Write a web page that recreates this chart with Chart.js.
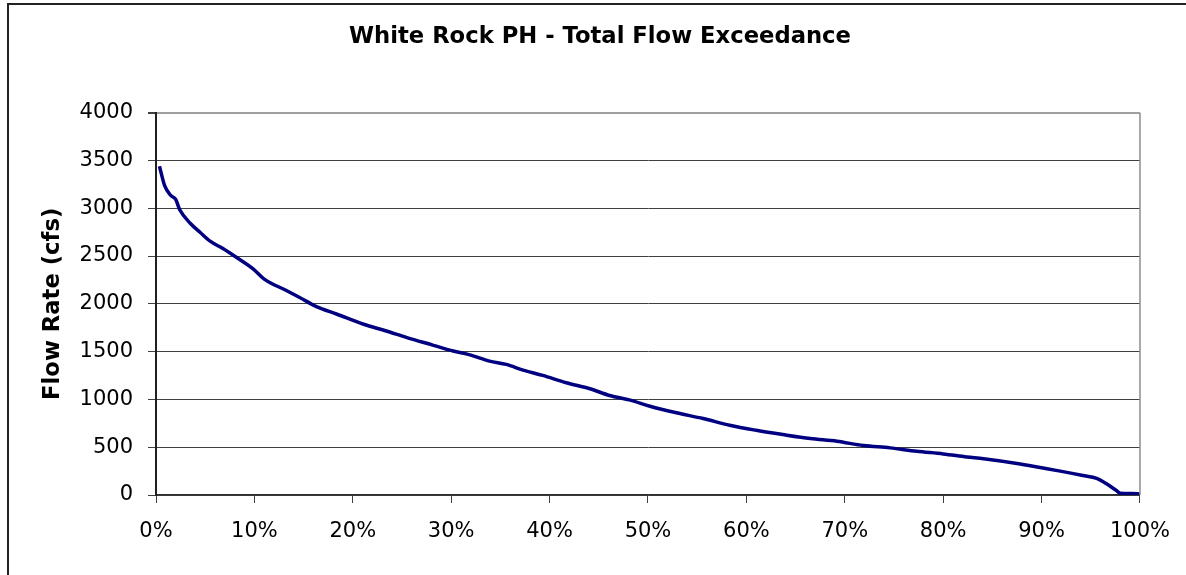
<!DOCTYPE html>
<html>
<head>
<meta charset="utf-8">
<script src="https://cdn.jsdelivr.net/npm/chart.js@4.4.1/dist/chart.umd.min.js"></script>
<style>
  html, body { margin: 0; padding: 0; background: #ffffff; overflow: hidden; }
  #wrap { width: 1186px; height: 575px; position: relative; }
</style>
</head>
<body>
<div id="wrap"><canvas id="c"></canvas></div>
<script>
// Exceedance probability (%) and flow rate (cfs)
const exceedancePct = [0.35, 0.9, 1.5, 2.0, 2.4, 3.5, 4.5, 5.5, 6.8, 8.2, 9.9, 11.0, 13.2, 14.6, 16.3, 18.4,
  21.1, 23.4, 25.5, 28.2, 30.2, 31.9, 33.9, 35.6, 37.3, 39.3, 41.7, 44.1, 46.1, 48.2, 50.2, 52.9, 55.6,
  58.3, 61.0, 63.7, 66.5, 69.2, 71.9, 74.6, 77.3, 80.0, 82.4, 84.1, 87.5, 90.0, 91.9, 94.2, 95.6, 96.6,
  97.6, 98.0, 99.0, 99.8, 100];
const flowCfs = [3440, 3230, 3134, 3092, 2987, 2840, 2746, 2655, 2578, 2484, 2363, 2258, 2142, 2066, 1971, 1891,
  1786, 1716, 1646, 1566, 1506, 1466, 1401, 1366, 1307, 1251, 1174, 1112, 1041, 992, 929, 860, 800,
  730, 677, 632, 590, 562, 517, 493, 457, 430, 398, 379, 330, 285, 250, 204, 173, 117,
  47, 18, 15, 12, 0];
const xTickValues = [0, 10, 20, 30, 40, 50, 60, 70, 80, 90, 100];
const yTickValues = [0, 500, 1000, 1500, 2000, 2500, 3000, 3500, 4000];

const chartTitle = 'White Rock PH - Total Flow Exceedance';
const yAxisTitle = 'Flow Rate (cfs)';

const points = exceedancePct.map((p, i) => ({ x: p, y: flowCfs[i] }));

const framePlugin = {
  id: 'frame',
  afterLayout(chart) {
    // centre the title box like the reference (offset toward the plot)
    const t = chart.titleBlock;
    if (t) { t.left = 60; t.right = 1140; t.width = t.right - t.left; }
  },
  beforeDraw(chart) {
    const ctx = chart.ctx;
    ctx.save();
    ctx.fillStyle = '#ffffff';
    ctx.fillRect(0, 0, chart.width, chart.height);
    ctx.fillStyle = '#222222';
    ctx.fillRect(7, 3, 2, chart.height - 3);
    ctx.fillRect(7, 3, chart.width - 7, 2);
    ctx.restore();
  },
  afterDatasetsDraw(chart) {
    const ctx = chart.ctx;
    const a = chart.chartArea;
    ctx.save();
    ctx.strokeStyle = '#8c8c8c';
    ctx.lineWidth = 1.5;
    ctx.beginPath();
    ctx.moveTo(a.right, a.top);
    ctx.lineTo(a.right, a.bottom);
    ctx.stroke();
    ctx.restore();
  }
};

Chart.defaults.font.family = '"DejaVu Sans", sans-serif';
Chart.defaults.color = '#000000';

new Chart(document.getElementById('c'), {
  type: 'line',
  data: {
    datasets: [{
      data: points,
      borderColor: '#000080',
      borderWidth: 3.5,
      pointRadius: 0,
      fill: false,
      cubicInterpolationMode: 'monotone'
    }]
  },
  options: {
    responsive: true,
    maintainAspectRatio: false,
    animation: false,
    layout: { padding: { left: 10, right: 46, top: 0, bottom: 0 } },
    plugins: {
      legend: { display: false },
      tooltip: { enabled: false },
      title: {
        display: true,
        text: chartTitle,
        color: '#000000',
        font: { size: 22.7, weight: 'bold' },
        padding: { top: 23, bottom: 62.4 }
      }
    },
    scales: {
      x: {
        type: 'linear',
        min: 0,
        max: 100,
        afterFit(scale) { scale.height = 80; },
        afterBuildTicks(scale) { scale.ticks = xTickValues.map(v => ({ value: v })); },
        border: { display: true, color: '#303030', width: 1.5 },
        grid: { drawOnChartArea: false, drawTicks: true, tickLength: 8, tickColor: '#404040' },
        ticks: {
          padding: 16,
          color: '#000000',
          font: { size: 21 },
          maxRotation: 0,
          callback: v => v + '%'
        }
      },
      y: {
        min: 0,
        max: 4000,
        afterFit(scale) { scale.width = 146; },
        afterBuildTicks(scale) { scale.ticks = yTickValues.map(v => ({ value: v })); },
        border: { display: true, color: '#202020', width: 2 },
        grid: {
          color: ctx => (ctx.tick && ctx.tick.value === 4000) ? '#a0a0a0' : '#404040',
          lineWidth: ctx => (ctx.tick && ctx.tick.value === 4000) ? 2 : 1,
          tickLength: 8,
          tickColor: '#404040'
        },
        ticks: {
          padding: 15,
          color: '#000000',
          font: { size: 21 },
          callback: v => String(v)
        },
        title: {
          display: true,
          text: yAxisTitle,
          color: '#000000',
          font: { size: 22.7, weight: 'bold' },
          padding: { top: 29, bottom: 0 }
        }
      }
    }
  },
  plugins: [framePlugin]
});
</script>
</body>
</html>
